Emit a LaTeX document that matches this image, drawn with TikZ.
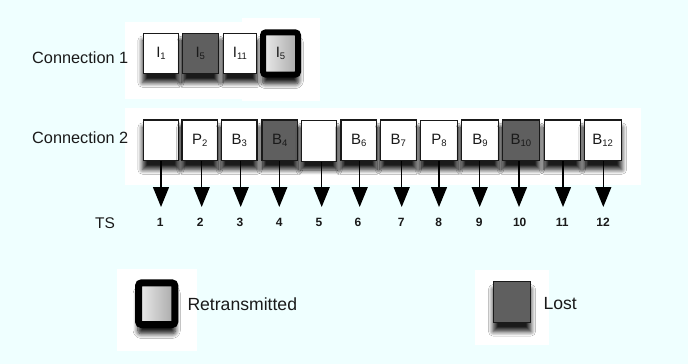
\documentclass[tikz,border=0pt]{standalone}
\usepackage{fontspec}
\setmainfont{Liberation Sans}
\usetikzlibrary{arrows.meta,shadows.blur}
\definecolor{bgcyan}{HTML}{EFFFFF}
\definecolor{lostgray}{HTML}{5F5F5F}
\definecolor{ink}{HTML}{1A1A1A}
% frame label with a lowered index
\newcommand\frm[2]{#1\raisebox{-2.4pt}{\fontsize{9.5}{9.5}\selectfont#2}}

\begin{document}
\begin{tikzpicture}[x=1pt,y=-1pt,
  pktshadow/.style={blur shadow={shadow xshift=0pt, shadow yshift=-8pt,
      shadow scale=1.04, shadow blur radius=4.5pt, shadow blur steps=8,
      shadow opacity=90}},
  pkt/.style={draw=ink, line width=1.1pt, fill=white, minimum width=35.5pt,
      minimum height=40.5pt, inner sep=0pt, font=\fontsize{15}{15}\selectfont,
      text=ink, pktshadow},
  lost/.style={pkt, fill=lostgray},
  retx/.style={draw=black, line width=6pt, rounded corners=3pt,
      left color=gray!15, right color=gray!68, minimum width=35pt,
      minimum height=42.4pt, inner sep=0pt, font=\fontsize{15}{15}\selectfont,
      text=ink, pktshadow},
  panel/.style={fill=white, draw=none},
  rowlabel/.style={anchor=west, font=\fontsize{16.3}{16}\selectfont, text=ink, inner sep=0pt},
  leglabel/.style={anchor=west, font=\fontsize{17.6}{18}\selectfont, text=ink, inner sep=0pt},
  tsnum/.style={font=\bfseries\fontsize{12}{12}\selectfont, text=ink, inner sep=0pt},
  arr/.style={draw=black, line width=1.3pt, -{Triangle[width=16pt,length=20pt]}}
]
% canvas
\fill[bgcyan] (0,0) rectangle (688,364);
\useasboundingbox (0,0) rectangle (688,364);

% white panels behind the rows and the legend
\fill[panel] (125,22) rectangle (245,99);
\fill[panel] (242,18) rectangle (320,101);
\fill[panel] (125,108) rectangle (641,185);
\fill[panel] (117,269) rectangle (197,351);
\fill[panel] (475,270) rectangle (549,345);

% row labels
\node[rowlabel] (lc1) at (32,58) {Connection 1};
\node[rowlabel] (lc2) at (32,138) {Connection 2};

% connection 1
\node[pkt]  (a1) at (161,53.3)   {\frm{I}{1}};
\node[lost] (a2) at (200.3,53.3) {\frm{I}{5}};
\node[pkt, minimum width=33.5pt] (a3) at (240,53.3) {\frm{I}{11}};
\node[retx] (a4) at (280.5,53.5) {\frm{I}{5}};

% connection 2
\node[pkt]  (b1)  at (161,140.2)   {};
\node[pkt]  (b2)  at (199.7,140.2) {\frm{P}{2}};
\node[pkt]  (b3)  at (239.2,140.2) {\frm{B}{3}};
\node[lost] (b4)  at (279.7,140.2) {\frm{B}{4}};
\node[pkt]  (b5)  at (319,140.8)   {};
\node[pkt]  (b6)  at (358.7,140.2) {\frm{B}{6}};
\node[pkt]  (b7)  at (398.3,140.2) {\frm{B}{7}};
\node[pkt, minimum width=37pt] (b8) at (439,140.6) {\frm{P}{8}};
\node[pkt, minimum width=37pt] (b9) at (480,140.2) {\frm{B}{9}};
\node[lost, minimum width=36.6pt] (b10) at (520.8,140.2) {\frm{B}{10}};
\node[pkt]  (b11) at (562.3,140.2) {};
\node[pkt, minimum width=37pt] (b12) at (602.7,140.2) {\frm{B}{12}};

% time slots
\node[font=\fontsize{15.5}{16}\selectfont, text=ink, inner sep=0pt] (ts) at (105,222.7) {TS};
\foreach \i/\ax/\nx in {1/161/160.3, 2/201.7/200.3, 3/240.7/240, 4/279.3/279.3,
    5/321.7/319, 6/359.7/358, 7/401.7/401.3, 8/439/438.7, 9/479.7/479.3,
    10/519/519.7, 11/563/562.3, 12/603.3/603}{
  \node[tsnum] (t\i) at (\nx,222.7) {\i};
  \coordinate (e\i) at (\ax,207);
  \draw[arr] (b\i.south -| e\i) -- (e\i);
}

% legend
\node[retx, line width=7pt, minimum width=36.3pt, minimum height=41.7pt] (lr) at (156.7,303.7) {};
\node[leglabel] (lrt) at (187.3,304.3) {Retransmitted};
\node[lost, minimum width=36.3pt, minimum height=40.6pt] (ll) at (512,302) {};
\node[leglabel] (llt) at (543.3,304) {Lost};
\end{tikzpicture}
\end{document}
